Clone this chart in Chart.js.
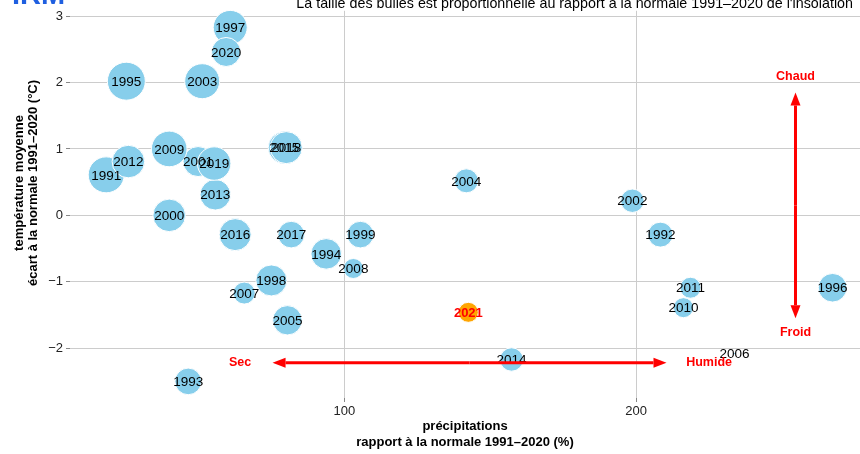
<!DOCTYPE html>
<html>
<head>
<meta charset="utf-8">
<script src="https://cdn.jsdelivr.net/npm/chart.js@4.4.0/dist/chart.umd.min.js"></script>
<style>
  html, body { margin: 0; padding: 0; background: #fff; }
</style>
</head>
<body>
<canvas id="myChart" width="860" height="454"></canvas>
<script>
// années 1991-2021 : précipitations (% normale), température (écart °C), insolation (% normale)
const annees = [1991,1992,1993,1994,1995,1996,1997,1998,1999,2000,2001,2002,2003,2004,2005,2006,
                2007,2008,2009,2010,2011,2012,2013,2014,2015,2016,2017,2018,2019,2020,2021];
const precip = [18.4,208.3,46.5,93.8,25.3,267.3,60.9,75.0,105.5,40.0,49.9,198.7,51.3,141.8,80.5,233.7,
                65.7,103.1,40.0,216.2,218.6,26.0,55.8,157.3,79.4,62.6,81.8,80.1,55.4,59.5,142.5];
const temp = [0.61,-0.29,-2.50,-0.58,2.02,-1.09,2.83,-0.98,-0.29,0.0,0.81,0.22,2.02,0.52,-1.58,-2.08,
              -1.17,-0.80,1.00,-1.39,-1.09,0.81,0.31,-2.17,1.02,-0.29,-0.29,1.02,0.78,2.46,-1.46];
const insolation = [120.7,110.7,112.2,115.8,122.5,114.0,118.9,116.2,112.2,117.6,115.3,109.3,119.8,109.8,114.7,89.8,
                    108.0,106.2,120.4,106.2,107.1,117.6,115.8,109.3,117.1,117.1,112.2,117.1,118.4,114.4,106.2];
const anneeCourante = 2021;

const xTicks = [100, 200];
const yTicks = [-2, -1, 0, 1, 2, 3];

// flèches (unités des données)
const flecheH = { y: -2.22, x1: 75.4, x2: 210.4 };
const flecheV = { x: 254.6, y1: -1.55, y2: 1.85 };
const etiquettes = [
  { txt: 'Sec', x: 64.3, y: -2.22 },
  { txt: 'Humide', x: 225, y: -2.22 },
  { txt: 'Chaud', x: 254.6, y: 2.09 },
  { txt: 'Froid', x: 254.6, y: -1.77 }
];

function rayon(ins) { return Math.max(1, (ins - 88) * 0.55); }

const datasets = [{
  label: 'années',
  data: annees.map((a, i) => ({ x: precip[i], y: temp[i], r: rayon(insolation[i]) })),
  backgroundColor: annees.map(a => a === anneeCourante ? '#FFA500' : '#87CEEB'),
  borderColor: '#ffffff',
  borderWidth: 1,
  clip: false
}];

function fleche(ctx, x1, y1, x2, y2) {
  const ang = Math.atan2(y2 - y1, x2 - x1);
  const L = 13, W = 5;
  ctx.beginPath();
  ctx.moveTo(x1, y1);
  ctx.lineTo(x2 - L * Math.cos(ang), y2 - L * Math.sin(ang));
  ctx.stroke();
  ctx.beginPath();
  ctx.moveTo(x2, y2);
  ctx.lineTo(x2 - L * Math.cos(ang) + W * Math.sin(ang), y2 - L * Math.sin(ang) - W * Math.cos(ang));
  ctx.lineTo(x2 - L * Math.cos(ang) - W * Math.sin(ang), y2 - L * Math.sin(ang) + W * Math.cos(ang));
  ctx.closePath();
  ctx.fill();
}

const decor = {
  id: 'decor',
  beforeDraw(chart) {
    const ctx = chart.ctx;
    ctx.save();
    ctx.fillStyle = '#fff';
    ctx.fillRect(0, 0, chart.width, chart.height);
    ctx.restore();
  },
  afterDatasetsDraw(chart) {
    const ctx = chart.ctx;
    const pts = chart.getDatasetMeta(0).data;
    ctx.save();
    ctx.textAlign = 'center';
    ctx.textBaseline = 'middle';
    annees.forEach((a, i) => {
      if (a === anneeCourante) {
        ctx.font = 'bold 13px "Liberation Sans", Arial, sans-serif';
        ctx.fillStyle = '#ff0000';
      } else {
        ctx.font = '13.5px "Liberation Sans", Arial, sans-serif';
        ctx.fillStyle = '#000';
      }
      ctx.fillText(String(a), pts[i].x, pts[i].y + 1);
    });
    ctx.restore();
  },
  afterDraw(chart) {
    const ctx = chart.ctx;
    const xs = chart.scales.x, ys = chart.scales.y;
    ctx.save();
    ctx.strokeStyle = '#ff0000';
    ctx.fillStyle = '#ff0000';
    ctx.lineWidth = 3;
    const hy = ys.getPixelForValue(flecheH.y);
    const hx1 = xs.getPixelForValue(flecheH.x1), hx2 = xs.getPixelForValue(flecheH.x2);
    fleche(ctx, (hx1 + hx2) / 2, hy, hx2, hy);
    fleche(ctx, (hx1 + hx2) / 2, hy, hx1, hy);
    const vx = xs.getPixelForValue(flecheV.x);
    const vy1 = ys.getPixelForValue(flecheV.y1), vy2 = ys.getPixelForValue(flecheV.y2);
    fleche(ctx, vx, (vy1 + vy2) / 2, vx, vy1);
    fleche(ctx, vx, (vy1 + vy2) / 2, vx, vy2);

    ctx.font = 'bold 12.5px "Liberation Sans", Arial, sans-serif';
    ctx.textAlign = 'center';
    ctx.textBaseline = 'middle';
    etiquettes.forEach(e => {
      ctx.fillText(e.txt, xs.getPixelForValue(e.x), ys.getPixelForValue(e.y));
    });

    // titres des axes
    ctx.fillStyle = '#000';
    ctx.font = 'bold 13px "Liberation Sans", Arial, sans-serif';
    const cx = (chart.chartArea.left + chart.chartArea.right) / 2;
    ctx.fillText('précipitations', cx, 426);
    ctx.fillText('rapport à la normale 1991–2020 (%)', cx, 442);
    ctx.save();
    ctx.translate(19, 183);
    ctx.rotate(-Math.PI / 2);
    ctx.fillText('température moyenne', 0, 0);
    ctx.fillText('écart à la normale 1991–2020 (°C)', 0, 14);
    ctx.restore();

    // sous-titre et logo
    ctx.font = '14.3px "Liberation Sans", Arial, sans-serif';
    ctx.textAlign = 'right';
    ctx.textBaseline = 'alphabetic';
    ctx.fillText('La taille des bulles est proportionnelle au rapport à la normale 1991–2020 de l\'insolation', 853, 8);
    ctx.textAlign = 'left';
    ctx.fillStyle = '#1f5fe0';
    ctx.font = 'bold 29px "Liberation Sans", Arial, sans-serif';
    ctx.fillText('IRM', 12, 4);
    ctx.restore();
  }
};

const ctx = document.getElementById('myChart');
const myChart = new Chart(ctx, {
  type: 'bubble',
  data: { datasets: datasets },
  options: {
    responsive: false,
    animation: false,
    events: [],
    layout: { autoPadding: false, padding: { top: 10, right: 0, left: 0, bottom: 0 } },
    plugins: { legend: { display: false }, tooltip: { enabled: false } },
    scales: {
      x: {
        type: 'linear',
        min: 6, max: 276.7,
        afterBuildTicks: s => { s.ticks = xTicks.map(v => ({ value: v })); },
        afterFit: s => { s.height = 56; },
        grid: { color: '#cccccc', tickColor: '#888', tickLength: 4, lineWidth: 1 },
        border: { display: false },
        ticks: { color: '#222', font: { family: '"Liberation Sans", Arial, sans-serif', size: 13 }, padding: 2, maxRotation: 0 }
      },
      y: {
        type: 'linear',
        min: -2.75, max: 3.08,
        afterBuildTicks: s => { s.ticks = yTicks.map(v => ({ value: v })); },
        afterFit: s => { s.width = 70; },
        grid: { color: '#cccccc', tickColor: '#888', tickLength: 4, lineWidth: 1 },
        border: { display: false },
        ticks: {
          color: '#222', font: { family: '"Liberation Sans", Arial, sans-serif', size: 13 }, padding: 3,
          callback: v => String(v).replace('-', '\u2212')
        }
      }
    }
  },
  plugins: [decor]
});
</script>
</body>
</html>
